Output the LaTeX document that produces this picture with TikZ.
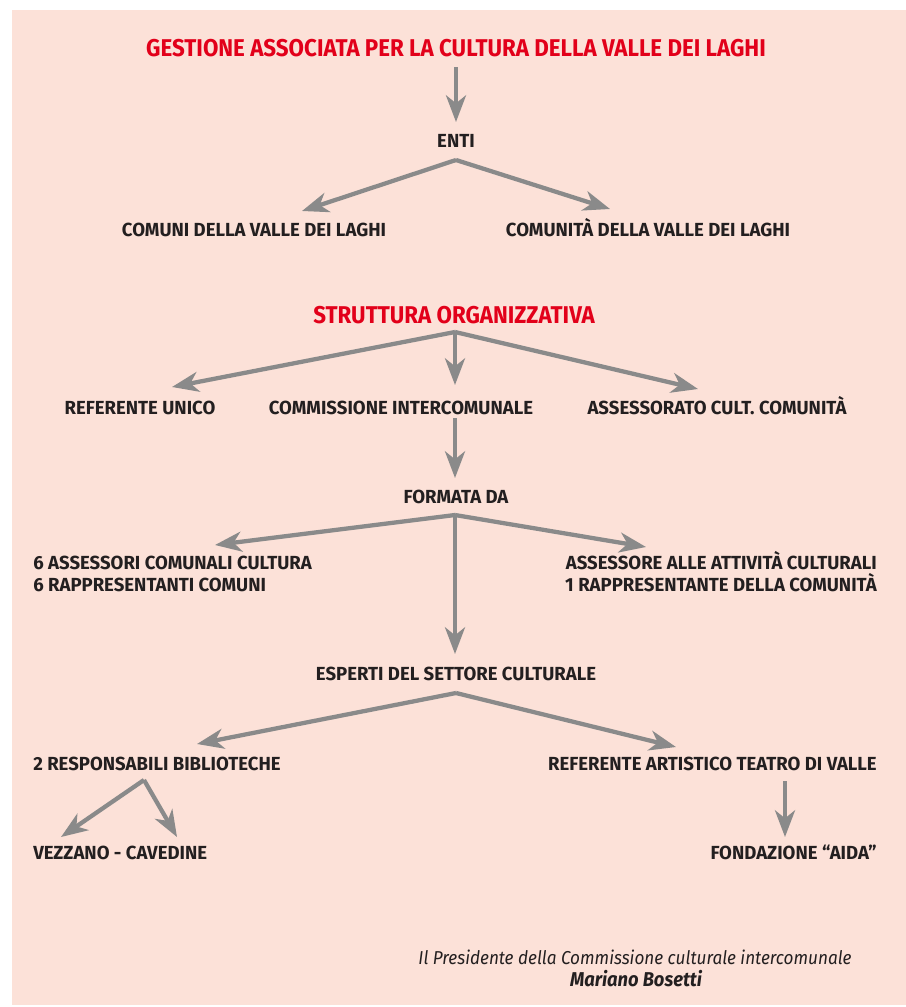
\documentclass[tikz,border=0pt]{standalone}
\usepackage{fontspec}
\setmainfont{Fira Sans}[FakeStretch=0.98]
\newfontfamily\strettafont{Fira Sans}[FakeStretch=0.92]
\usetikzlibrary{calc,positioning,arrows.meta}
\definecolor{rosa}{RGB}{252,225,216}
\definecolor{rosso}{RGB}{226,0,26}
\definecolor{grigio}{RGB}{138,138,138}
\definecolor{nero}{RGB}{35,31,32}
\tikzset{
  titolo/.style={
    inner sep=0pt,
    anchor=base,
    text=rosso,
    font=\strettafont\fontsize{18.2}{20}\selectfont\bfseries},
  voce/.style={
    inner sep=0pt,
    anchor=base,
    text=nero,
    font=\fontsize{14.2}{16}\selectfont\bfseries},
  firma/.style={
    inner sep=0pt,
    anchor=base,
    text=nero,
    font=\strettafont\fontsize{14}{16}\selectfont\itshape},
  freccia/.style={
    draw=grigio,
    line width=3.2pt,
    -{Stealth[length=20pt,width=15pt,inset=6pt]}},
}

\begin{document}
\begin{tikzpicture}
  [x=0.75pt, y=-0.75pt]
\useasboundingbox (0,0) rectangle (906,1007);
\fill[rosa] (12,10) rectangle (906,1005);

% enti
\node[titolo] (gestione) at (456,56) {GESTIONE ASSOCIATA PER LA CULTURA DELLA VALLE DEI LAGHI};
\node[voce] (enti) at (456,147.5) {ENTI};
\node[voce] (comuni) at (254,236.5) {COMUNI DELLA VALLE DEI LAGHI};
\node[voce] (comunita) at (648,236.5) {COMUNITÀ DELLA VALLE DEI LAGHI};

% struttura
\node[titolo] (struttura) at (454,323) {STRUTTURA ORGANIZZATIVA};
\node[voce] (referente) at (140,414.5) {REFERENTE UNICO};
\node[voce] (commissione) at (401,414.5) {COMMISSIONE INTERCOMUNALE};
\node[voce] (assessorato) at (717,414.5) {ASSESSORATO CULT. COMUNITÀ};
\node[voce] (formata) at (456,503.5) {FORMATA DA};
\node[voce, anchor=base west] (assessori) at (33,569.5) {6 ASSESSORI COMUNALI CULTURA};
\node[voce, anchor=base west] (rappresentanti) at (33,591.5) {6 RAPPRESENTANTI COMUNI};
\node[voce, anchor=base east] (attivita) at (877,569.5) {ASSESSORE ALLE ATTIVITÀ CULTURALI};
\node[voce, anchor=base east] (rappresentante) at (877,591.5) {1 RAPPRESENTANTE DELLA COMUNITÀ};
\node[voce] (esperti) at (456,680.5) {ESPERTI DEL SETTORE CULTURALE};
\node[voce, anchor=base west] (biblioteche) at (33,770.5) {2 RESPONSABILI BIBLIOTECHE};
\node[voce, anchor=base east] (teatro) at (877,770.5) {REFERENTE ARTISTICO TEATRO DI VALLE};
\node[voce, anchor=base west] (vezzano) at (33,859.5) {VEZZANO - CAVEDINE};
\node[voce, anchor=base east] (aida) at (877,859.5) {FONDAZIONE “AIDA”};

% firma
\node[firma] (presidente) at (635,964) {Il Presidente della Commissione culturale intercomunale};
\node[firma, font=\strettafont\fontsize{15}{17}\selectfont\bfseries\itshape] (bosetti) at (636,986) {Mariano Bosetti};

% punti di partenza e punte
\coordinate (gestione-out) at (456,67);
\coordinate (enti-in) at (456,122);
\coordinate (enti-out) at (456,160);
\coordinate (comuni-in) at (302,211);
\coordinate (comunita-in) at (610,209);
\coordinate (struttura-out) at (455,332);
\coordinate (referente-in) at (172,387);
\coordinate (commissione-in) at (455,385);
\coordinate (assessorato-in) at (698,389);
\coordinate (commissione-out) at (455,418);
\coordinate (formata-in) at (455,478);
\coordinate (formata-out) at (455,515);
\coordinate (assessori-in) at (215,545);
\coordinate (attivita-in) at (646,547);
\coordinate (esperti-in) at (455,654);
\coordinate (esperti-out) at (456,693);
\coordinate (biblioteche-in) at (197,744);
\coordinate (teatro-in) at (676,747);
\coordinate (biblioteche-out) at (144,780);
\coordinate (vezzano-in) at (61,837);
\coordinate (cavedine-in) at (177,837);
\coordinate (teatro-out) at (785,781);
\coordinate (aida-in) at (785,837);

\draw[freccia] (gestione-out) -- (enti-in);
\draw[freccia] (enti-out) -- (comuni-in);
\draw[freccia] (enti-out) -- (comunita-in);
\draw[freccia] (struttura-out) -- (referente-in);
\draw[freccia] (struttura-out) -- (commissione-in);
\draw[freccia] (struttura-out) -- (assessorato-in);
\draw[freccia] (commissione-out) -- (formata-in);
\draw[freccia] (formata-out) -- (assessori-in);
\draw[freccia] (formata-out) -- (attivita-in);
\draw[freccia] (formata-out) -- (esperti-in);
\draw[freccia] (esperti-out) -- (biblioteche-in);
\draw[freccia] (esperti-out) -- (teatro-in);
\draw[freccia] (biblioteche-out) -- (vezzano-in);
\draw[freccia] (biblioteche-out) -- (cavedine-in);
\draw[freccia] (teatro-out) -- (aida-in);
\end{tikzpicture}
\end{document}
